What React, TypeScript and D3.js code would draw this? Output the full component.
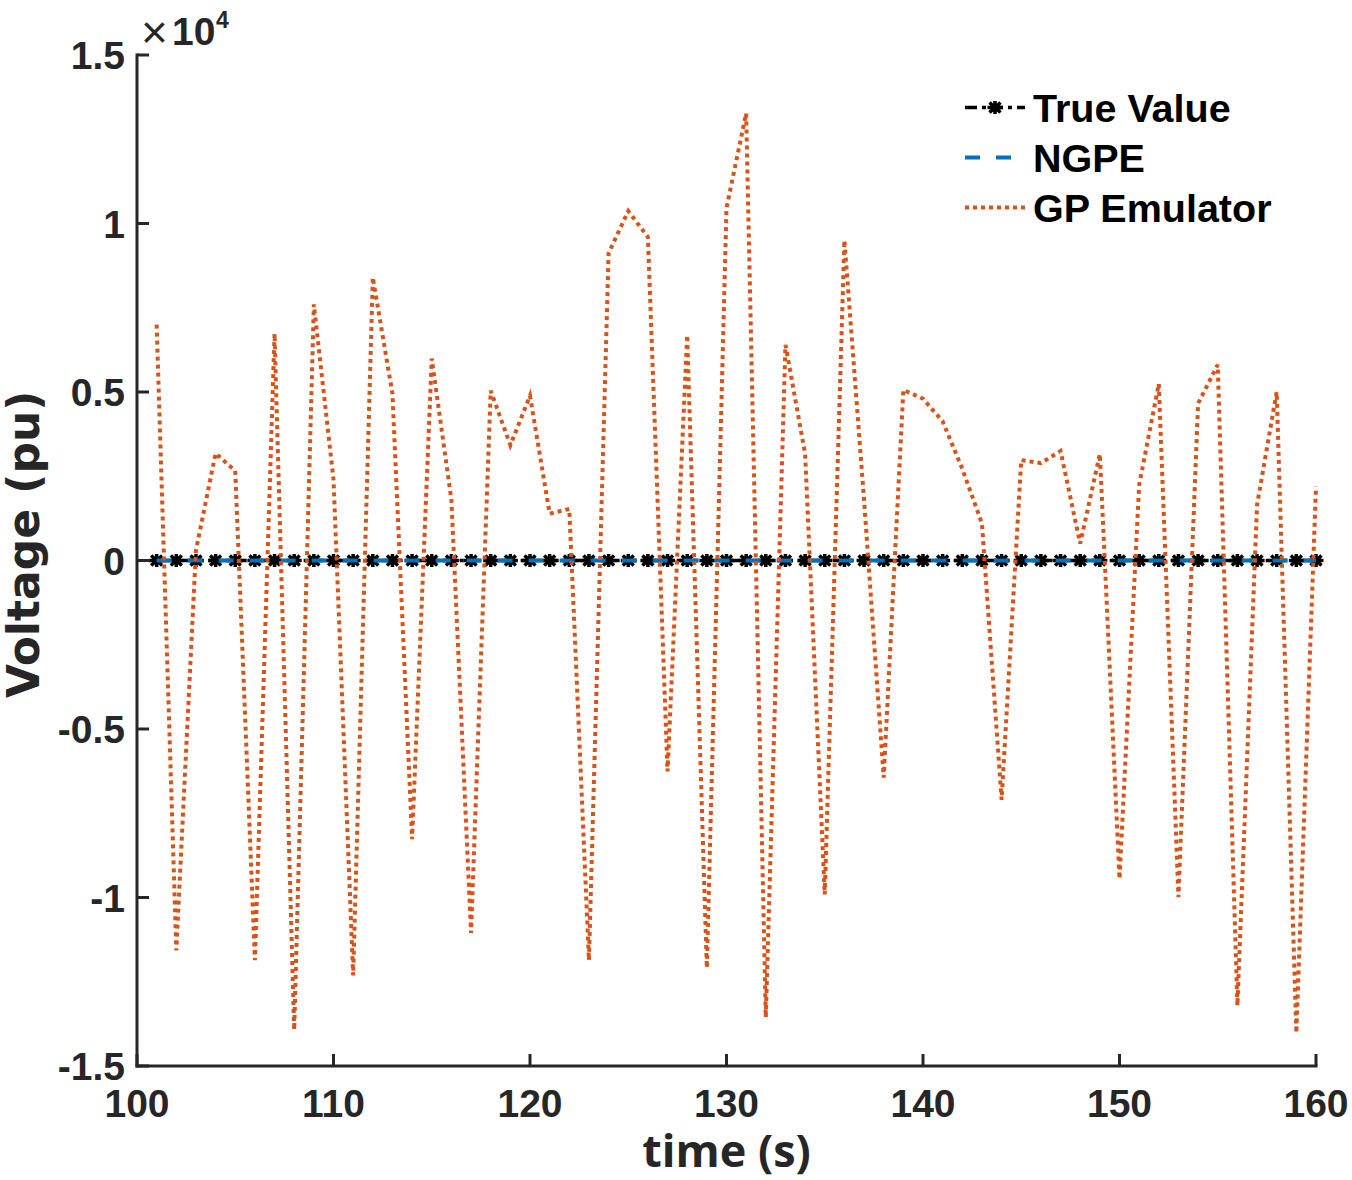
import React from 'react';
import * as d3 from 'd3';

const time = [101, 102, 103, 104, 105, 106, 107, 108, 109, 110, 111, 112, 113, 114, 115, 116, 117, 118, 119, 120,
  121, 122, 123, 124, 125, 126, 127, 128, 129, 130, 131, 132, 133, 134, 135, 136, 137, 138, 139, 140,
  141, 142, 143, 144, 145, 146, 147, 148, 149, 150, 151, 152, 153, 154, 155, 156, 157, 158, 159, 160];

const trueValue = [1.0, 1.0, 1.0, 1.0, 1.0, 1.0, 1.0, 1.0, 1.0, 1.0, 1.0, 1.0, 1.0, 1.0, 1.0, 1.0, 1.0, 1.0, 1.0, 1.0,
  1.0, 1.0, 1.0, 1.0, 1.0, 1.0, 1.0, 1.0, 1.0, 1.0, 1.0, 1.0, 1.0, 1.0, 1.0, 1.0, 1.0, 1.0, 1.0, 1.0,
  1.0, 1.0, 1.0, 1.0, 1.0, 1.0, 1.0, 1.0, 1.0, 1.0, 1.0, 1.0, 1.0, 1.0, 1.0, 1.0, 1.0, 1.0, 1.0, 1.0];

const ngpe = [1.0, 1.0, 1.0, 1.0, 1.0, 1.0, 1.0, 1.0, 1.0, 1.0, 1.0, 1.0, 1.0, 1.0, 1.0, 1.0, 1.0, 1.0, 1.0, 1.0,
  1.0, 1.0, 1.0, 1.0, 1.0, 1.0, 1.0, 1.0, 1.0, 1.0, 1.0, 1.0, 1.0, 1.0, 1.0, 1.0, 1.0, 1.0, 1.0, 1.0,
  1.0, 1.0, 1.0, 1.0, 1.0, 1.0, 1.0, 1.0, 1.0, 1.0, 1.0, 1.0, 1.0, 1.0, 1.0, 1.0, 1.0, 1.0, 1.0, 1.0];

const gpEmulator = [7000, -11570, 300, 3180, 2660, -11860, 6730, -13930, 7600, 2400,
  -12310, 8400, 4950, -8270, 5990, 1800, -11050, 5040, 3420, 4890,
  1390, 1530, -11860, 9120, 10370, 9600, -6260, 6690, -12090, 10460,
  13270, -13550, 6400, 3170, -9910, 9500, 1800, -6440, 5060, 4800,
  4130, 2720, 1100, -7100, 2980, 2890, 3250, 500, 3160, -9450,
  2240, 5240, -9990, 4660, 5810, -13210, 1650, 5000, -14020, 2200];

const xTicks = [100, 110, 120, 130, 140, 150, 160];
const yTicks = [-15000, -10000, -5000, 0, 5000, 10000, 15000];
const yTickLabels = ['-1.5', '-1', '-0.5', '0', '0.5', '1', '1.5'];
const legendLabels = ['True Value', 'NGPE', 'GP Emulator'];

const AXIS = '#262626';
const BLACK = '#000000';
const BLUE = '#0072BD';
const ORANGE = '#D95319';
const TICK_FONT = '"Liberation Sans", Arial, Helvetica, sans-serif';

const STAR = 'M-7.5,0L7.5,0M0,-6.5L0,6.5M-5.5,-5L5.5,5M-5.5,5L5.5,-5';

export default function App() {
  const x = d3.scaleLinear().domain([100, 160]).range([137, 1316]);
  const y = d3.scaleLinear().domain([-15000, 15000]).range([1066, 55]);

  const mkLine = (vals: number[]) =>
    d3.line<number>()
      .x((_, i) => x(time[i]))
      .y((d) => y(d))(vals) || '';

  const legendX0 = 965;
  const legendX1 = 1025;
  const legendTextX = 1033;
  const legendY = [107.5, 157.5, 207.5];

  return (
    <div style={{ position: 'absolute', left: 0, top: 0 }}>
      <svg width={1352} height={1180} xmlns="http://www.w3.org/2000/svg" style={{ display: 'block', background: '#fff' }}>
        {/* data lines */}
        <path d={mkLine(trueValue)} fill="none" stroke={BLACK} strokeWidth={3.5} strokeDasharray="12 5 4 5" />
        {trueValue.map((v, i) => (
          <path key={'m' + i} d={STAR} transform={`translate(${x(time[i])},${y(v)})`} fill="none" stroke={BLACK} strokeWidth={3.5} />
        ))}
        <path d={mkLine(ngpe)} fill="none" stroke={BLUE} strokeWidth={4} strokeDasharray="15 16" />
        <path d={mkLine(gpEmulator)} fill="none" stroke={ORANGE} strokeWidth={4} strokeDasharray="4 4" />

        {/* axes */}
        <line x1={x(100)} x2={x(160)} y1={y(-15000)} y2={y(-15000)} stroke={AXIS} strokeWidth={3} strokeLinecap="square" />
        <line x1={x(100)} x2={x(100)} y1={y(-15000)} y2={y(15000)} stroke={AXIS} strokeWidth={3} strokeLinecap="square" />
        {xTicks.map((t) => (
          <g key={'xt' + t}>
            <line x1={x(t)} x2={x(t)} y1={y(-15000)} y2={y(-15000) - 12} stroke={AXIS} strokeWidth={3} />
            <text x={x(t)} y={1117} textAnchor="middle" fontFamily={TICK_FONT} fontWeight="bold" fontSize={39} fill={AXIS}>{t}</text>
          </g>
        ))}
        {yTicks.map((t, i) => (
          <g key={'yt' + t}>
            <line x1={x(100)} x2={x(100) + 12} y1={y(t)} y2={y(t)} stroke={AXIS} strokeWidth={3} />
            <text x={125} y={y(t) + 14} textAnchor="end" fontFamily={TICK_FONT} fontWeight="bold" fontSize={39} fill={AXIS}>{yTickLabels[i]}</text>
          </g>
        ))}

        {/* exponent */}
        <text x={141} y={48} fontFamily={TICK_FONT} fontSize={46} fill={AXIS}>×</text>
        <text x={172} y={45} fontFamily={TICK_FONT} fontWeight="bold" fontSize={39} fill={AXIS}>10</text>
        <text x={216} y={28} fontFamily={TICK_FONT} fontWeight="bold" fontSize={23} fill={AXIS}>4</text>

        {/* axis labels */}
        <text x={726.5} y={1167} textAnchor="middle" fontFamily='"Open Sans", sans-serif' fontWeight="bold" fontSize={45} fill={AXIS}>time (s)</text>
        <text transform={`translate(39,698) rotate(-90)`} textAnchor="start" fontFamily='"DejaVu Sans", Verdana, sans-serif' fontWeight="bold" fontSize={44} fill={AXIS}>Voltage (pu)</text>

        {/* legend */}
        <line x1={legendX0} x2={legendX1} y1={legendY[0]} y2={legendY[0]} stroke={BLACK} strokeWidth={3.5} strokeDasharray="12 5 4 5" />
        <path d={STAR} transform={`translate(${(legendX0 + legendX1) / 2},${legendY[0]})`} fill="none" stroke={BLACK} strokeWidth={3.5} />
        <line x1={legendX0} x2={legendX1} y1={legendY[1]} y2={legendY[1]} stroke={BLUE} strokeWidth={4} strokeDasharray="15 16" />
        <line x1={legendX0} x2={legendX1} y1={legendY[2]} y2={legendY[2]} stroke={ORANGE} strokeWidth={4} strokeDasharray="4 4" />
        {legendLabels.map((lab, i) => (
          <text key={lab} x={legendTextX} y={legendY[i] + 14.5} fontFamily={TICK_FONT} fontWeight="bold" fontSize={39.5} fill={BLACK}>{lab}</text>
        ))}
      </svg>
    </div>
  );
}
